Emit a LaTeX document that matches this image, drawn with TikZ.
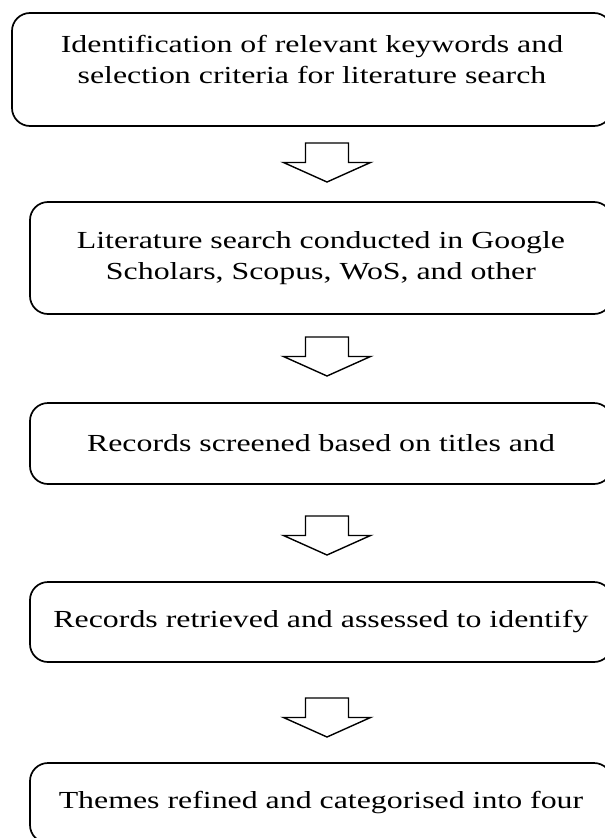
\documentclass[tikz,border=0pt]{standalone}
\usepackage{fontspec}
\setmainfont[FakeStretch=1.3]{Liberation Serif}
\begin{document}
\begin{tikzpicture}[x=1pt,y=-1pt,
  box/.style={draw, line width=1.7pt, rounded corners=18pt, inner sep=0pt, minimum width=582pt},
  txt/.style={align=center, inner sep=0pt, font=\fontsize{24.5}{30.5}\selectfont},
  blk/.style={draw, line width=1.4pt, fill=white, line join=miter}]
\useasboundingbox (0,0) rectangle (605,838);
\clip (0,0) rectangle (605,838);
% boxes
\node[box, minimum width=600pt, minimum height=113pt] (b1) at (312,69.5) {};
\node[txt] (t1) at (312,59.5) {Identification of relevant keywords and\\selection criteria for literature search};
\node[box, txt, minimum height=112pt, minimum width=582pt] (b2) at (321,258) {Literature search conducted in Google\\Scholars, Scopus, WoS, and other};
\node[box, txt, minimum height=81pt, minimum width=582pt] (b3) at (321,443.5) {Records screened based on titles and};
\node[box, txt, minimum height=80pt, minimum width=582pt] (b4) at (321,622) {Records retrieved and assessed to identify};
\node[box, txt, minimum height=80pt, minimum width=582pt] (b5) at (321,803) {Themes refined and categorised into four};
% block arrows
\newcommand{\blockarrow}[3]{%
  \coordinate (#1) at (#2,#3);
  \draw[blk] (#1) ++(-21.5,0) -- ++(43,0) -- ++(0,19.5) -- ++(22,0) -- ++(-43.5,19.5) -- ++(-43.5,-19.5) -- ++(22,0) -- cycle;}
\blockarrow{a1}{327}{143}
\blockarrow{a2}{327}{337}
\blockarrow{a3}{327}{516}
\blockarrow{a4}{327}{698}
\end{tikzpicture}
\end{document}
